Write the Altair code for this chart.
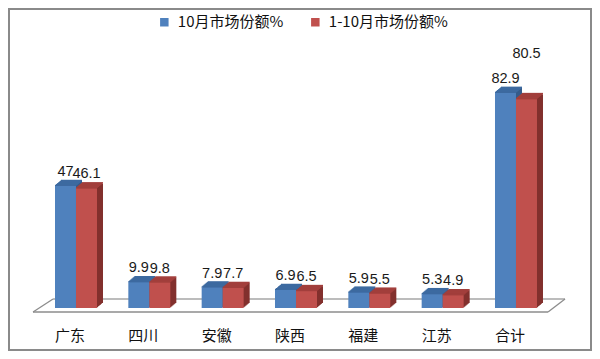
import altair as alt
import pandas as pd

# ---- data ----
categories = ['广东', '四川', '安徽', '陕西', '福建', '江苏', '合计']
series_names = ['10月市场份额%', '1-10月市场份额%']
oct_share = [47, 9.9, 7.9, 6.9, 5.9, 5.3, 82.9]
ytd_share = [46.1, 9.8, 7.7, 6.5, 5.5, 4.9, 80.5]

rows = []
for c, v in zip(categories, oct_share):
    rows.append({'cat': c, 'series': series_names[0], 'value': v})
for c, v in zip(categories, ytd_share):
    rows.append({'cat': c, 'series': series_names[1], 'value': v})
df = pd.DataFrame(rows)

# ---- layout ----
SVG_W, SVG_H = 584, 343
PL, PT = 31.33, 66.5
W, H = 513.33, 233.5
PR = SVG_W - PL - W
PB = SVG_H - PT - H

BLUE, BLUE_TOP, BLUE_SIDE = '#4f81bd', '#3d6aa0', '#345b8a'
RED, RED_TOP, RED_SIDE = '#c0504d', '#a23f3c', '#82302d'
FONT_CJK = 'Noto Sans CJK SC'
FONT_NUM = 'Liberation Sans'

BAR_W = 21
DEPTH_X, DEPTH_Y = 6, 5

xenc = alt.X('cat:N', sort=categories,
             scale=alt.Scale(paddingInner=0.427, paddingOuter=0.2135),
             axis=alt.Axis(title=None, domain=False, ticks=False, tickSize=0,
                           labelAngle=0, labelFont=FONT_CJK, labelFontSize=15,
                           labelColor='#111111', labelPadding=20, labelOffset=-6,
                           grid=False))
yenc = alt.Y('value:Q', scale=alt.Scale(domain=[0, 90]), axis=None)

color_enc = alt.Color('series:N',
                      scale=alt.Scale(domain=series_names, range=[BLUE, RED]),
                      legend=alt.Legend(title=None, orient='none',
                                        legendX=117.5, legendY=-60,
                                        direction='horizontal', symbolType='square',
                                        symbolSize=72, symbolStrokeWidth=0,
                                        labelFont=FONT_CJK, labelFontSize=15,
                                        labelColor='#111111', labelOffset=6,
                                        columnPadding=24, padding=0))

dummy = pd.DataFrame({'d': [0]})

# frame
frame = alt.Chart(dummy).mark_rect(fillOpacity=0, stroke='#8a8a8a', strokeWidth=2).encode(
    x=alt.value(-PL + 1), x2=alt.value(W + PR - 1),
    y=alt.value(-PT + 1), y2=alt.value(H + PB - 1))

# floor (parallelogram)
FY_FRONT, FY_BACK = H + 4, H - 9
FX_FL, FX_FR = -6.3, 508.7
FX_BL, FX_BR = 13.7, 525.7
floor_lines = []
for (x1, y1, x2, y2, col) in [
    (FX_BL, FY_BACK, FX_BR, FY_BACK, '#a6a6a6'),
    (FX_FL, FY_FRONT, FX_BL, FY_BACK, '#8c8c8c'),
    (FX_FR, FY_FRONT, FX_BR, FY_BACK, '#8c8c8c'),
    (FX_FL, FY_FRONT, FX_FR, FY_FRONT, '#8c8c8c'),
]:
    floor_lines.append(alt.Chart(dummy).mark_rule(color=col, strokeWidth=1.3).encode(
        x=alt.value(x1), y=alt.value(y1), x2=alt.value(x2), y2=alt.value(y2)))


def bar_layers(series, off, front, top, side):
    base = alt.Chart(df).transform_filter(alt.datum.series == series)
    layers = []
    for k in range(1, DEPTH_X + 1):
        dy = -DEPTH_Y * k / DEPTH_X
        layers.append(base.mark_bar(width=BAR_W, color=side, xOffset=off + k,
                                    yOffset=dy, y2Offset=dy).encode(x=xenc, y=yenc))
    for k in range(0, DEPTH_X + 1):
        dy = -DEPTH_Y * k / DEPTH_X
        layers.append(base.mark_bar(width=BAR_W, color=top, xOffset=off + k,
                                    yOffset=dy - 1.3, y2Offset=dy + 0.3).encode(
            x=xenc, y=yenc, y2=alt.Y2('value:Q')))
    layers.append(base.mark_bar(width=BAR_W, xOffset=off).encode(
        x=xenc, y=yenc, color=color_enc))
    return layers


blue_layers = bar_layers(series_names[0], -BAR_W / 2, BLUE, BLUE_TOP, BLUE_SIDE)
red_layers = bar_layers(series_names[1], BAR_W / 2, RED, RED_TOP, RED_SIDE)

txt = dict(font=FONT_NUM, fontSize=14.5, color='#1a1a1a', baseline='alphabetic', align='center')
text_blue = alt.Chart(df).transform_filter(alt.datum.series == series_names[0]).mark_text(
    dx=-BAR_W / 2, dy=-10, **txt).encode(x=xenc, y=yenc, text=alt.Text('value:Q', format='.1~f'))
text_red = alt.Chart(df).transform_filter(
    (alt.datum.series == series_names[1]) & (alt.datum.cat != '合计')).mark_text(
    dx=BAR_W / 2, dy=-10, **txt).encode(x=xenc, y=yenc, text=alt.Text('value:Q', format='.1~f'))
text_red_total = alt.Chart(df).transform_filter(
    (alt.datum.series == series_names[1]) & (alt.datum.cat == '合计')).mark_text(
    dx=BAR_W / 2, dy=-41, **txt).encode(x=xenc, y=yenc, text=alt.Text('value:Q', format='.1~f'))

chart = alt.layer(frame, *floor_lines, *blue_layers, *red_layers,
                  text_blue, text_red, text_red_total).properties(
    width=W, height=H,
    autosize=alt.AutoSizeParams(type='none'),
    padding={'left': PL, 'top': PT, 'right': PR, 'bottom': PB},
    background='white',
).configure_view(stroke=None)

chart.save('out.html', embed_options={'renderer': 'svg', 'actions': False})
